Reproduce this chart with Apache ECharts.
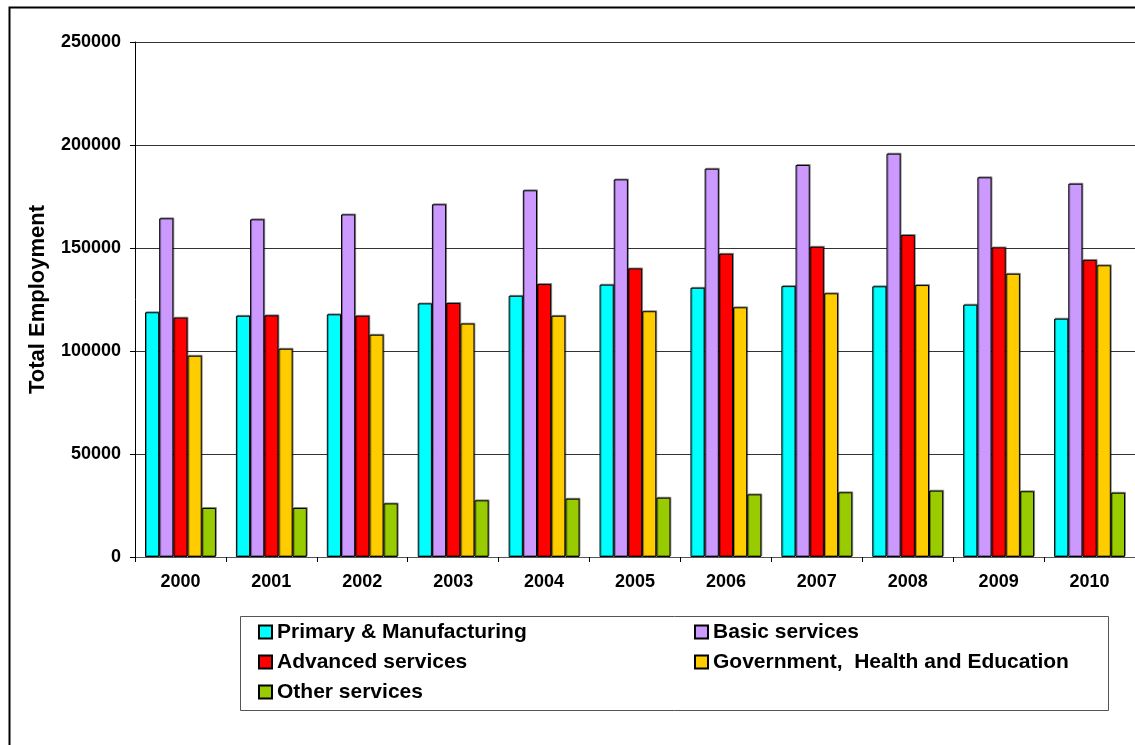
<!DOCTYPE html>
<html>
<head>
<meta charset="utf-8">
<script src="https://cdn.jsdelivr.net/npm/echarts@6/dist/echarts.min.js"></script>
<style>
  html, body { margin: 0; padding: 0; background: #fff; }
  #chart { width: 1135px; height: 745px; }
</style>
</head>
<body>
<div id="chart"></div>
<script>
// Employment by sector, 2000-2010
const years = ['2000', '2001', '2002', '2003', '2004', '2005', '2006', '2007', '2008', '2009', '2010'];
const primaryManufacturing = [118800, 117100, 117800, 123100, 126800, 132200, 130700, 131500, 131400, 122500, 115700];
const basicServices        = [164400, 163900, 166300, 171200, 178000, 183300, 188500, 190300, 195800, 184300, 181200];
const advancedServices     = [116200, 117300, 117100, 123300, 132500, 140100, 147200, 150600, 156300, 150300, 144200];
const governmentHealthEdu  = [97700, 101100, 107900, 113300, 117100, 119300, 121200, 128000, 132000, 137500, 141600];
const otherServices        = [23800, 23800, 26000, 27500, 28300, 28800, 30400, 31400, 32200, 31900, 31200];

const seriesNames = [
  'Primary & Manufacturing',
  'Basic services',
  'Advanced services',
  'Government,  Health and Education',
  'Other services'
];
const seriesColors = ['#00FFFF', '#CC99FF', '#FF0000', '#FFCC00', '#99CC00'];
const seriesData = [primaryManufacturing, basicServices, advancedServices, governmentHealthEdu, otherServices];

const FONT = 'Arial, "Liberation Sans", sans-serif';

const chart = echarts.init(document.getElementById('chart'), null, { renderer: 'canvas' });

chart.setOption({
  animation: false,
  backgroundColor: '#ffffff',
  textStyle: { fontFamily: FONT },
  grid: { left: 135, top: 42, width: 1006, height: 515, containLabel: false },
  xAxis: {
    type: 'category',
    data: years,
    axisLine: { lineStyle: { color: '#555', width: 1 } },
    axisTick: { show: true, length: 5, lineStyle: { color: '#000' } },
    axisLabel: { color: '#000', fontWeight: 'bold', fontSize: 18, fontFamily: FONT, margin: 16 },
    splitLine: { show: false }
  },
  yAxis: {
    type: 'value',
    min: 0,
    max: 250000,
    interval: 50000,
    name: 'Total Employment',
    nameLocation: 'middle',
    nameGap: 86,
    nameRotate: 90,
    nameTextStyle: { color: '#000', fontWeight: 'bold', fontSize: 22, fontFamily: FONT },
    axisLine: { show: true, lineStyle: { color: '#000', width: 1 } },
    axisTick: { show: true, length: 5, lineStyle: { color: '#000' } },
    axisLabel: {
      color: '#000', fontWeight: 'bold', fontSize: 18, fontFamily: FONT, margin: 14,
      formatter: v => String(v)
    },
    splitLine: { show: true, lineStyle: { color: '#333', width: 1 } }
  },
  legend: {
    left: 258,
    top: 617,
    width: 880,
    padding: 0,
    orient: 'horizontal',
    itemGap: 0,
    itemWidth: 13,
    itemHeight: 13,
    icon: 'rect',
    selectedMode: false,
    textStyle: {
      color: '#000',
      fontWeight: 'bold',
      fontSize: 21,
      fontFamily: FONT,
      width: 417,
      lineHeight: 30
    },
    data: seriesNames
  },
  graphic: [
    {
      type: 'rect',
      left: 7, top: 5,
      shape: { width: 1140, height: 760 },
      style: { fill: 'none', stroke: '#000', lineWidth: 2 },
      silent: true
    },
    {
      type: 'rect',
      left: 238, top: 614,
      shape: { width: 868, height: 94 },
      style: { fill: 'none', stroke: '#555', lineWidth: 1 },
      silent: true
    }
  ],
  series: seriesNames.map((name, i) => ({
    name: name,
    type: 'bar',
    data: seriesData[i],
    barGap: '0%',
    barCategoryGap: '22%',
    itemStyle: {
      color: seriesColors[i],
      borderColor: '#000',
      borderWidth: 1,
      shadowColor: 'rgba(0,0,0,0.35)',
      shadowOffsetX: 1,
      shadowOffsetY: -1,
      shadowBlur: 0
    }
  }))
});
</script>
</body>
</html>
